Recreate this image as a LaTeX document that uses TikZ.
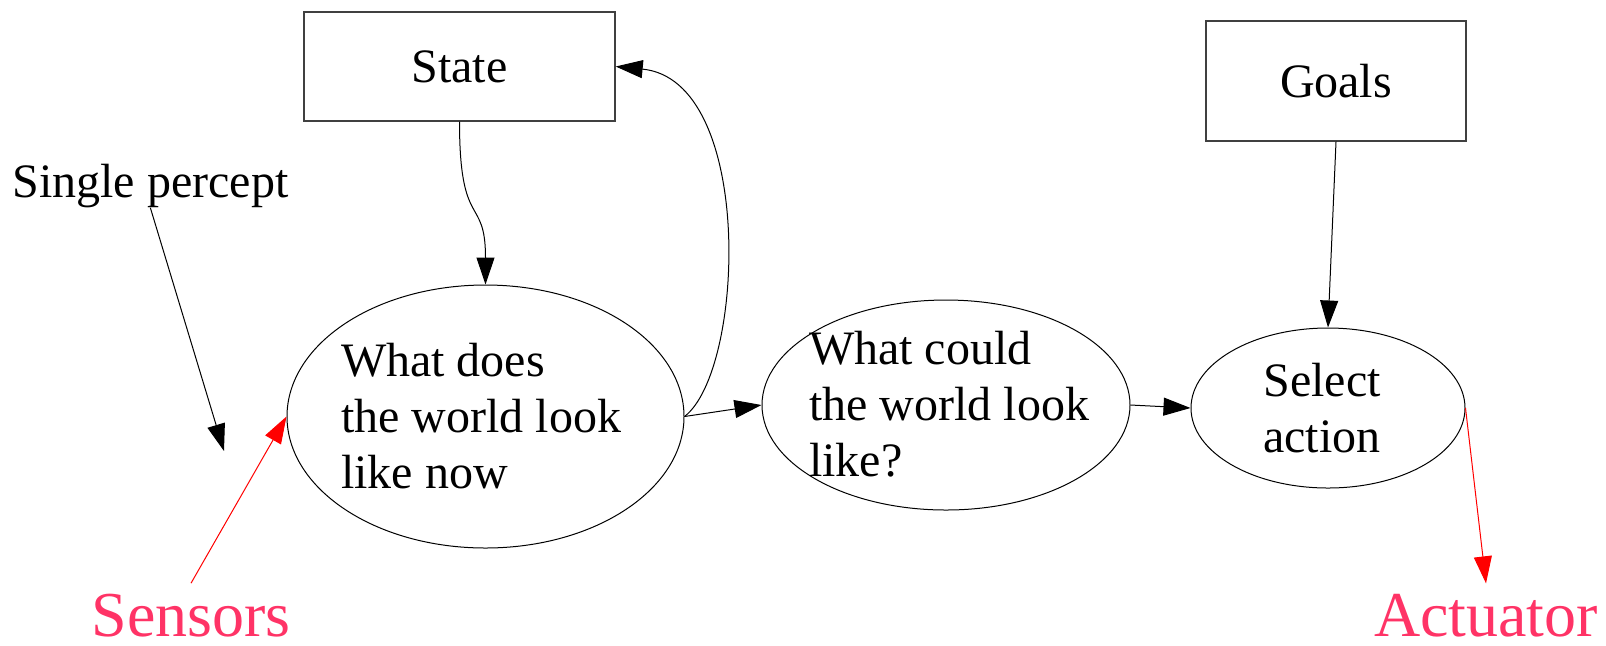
\documentclass[tikz,border=0pt]{standalone}
\usepackage{fontspec}
\setmainfont{Liberation Serif}
\usetikzlibrary{arrows.meta,shapes.geometric}
\definecolor{sensorpink}{RGB}{255,51,102}
\begin{document}
\begin{tikzpicture}[x=0.5pt,y=-0.5pt,
  tip/.style={-{Triangle[length=13.5pt,width=9pt]}},
  conn/.style={tip,line width=0.5pt,black},
  redconn/.style={tip,line width=0.5pt,red},
  box/.style={draw=black!75,line width=0.7pt,rectangle,inner sep=0pt,
    font=\fontsize{24}{28}\selectfont},
  blob/.style={draw,ellipse,line width=0.5pt,inner sep=0pt},
  blobtext/.style={align=left,inner sep=0pt,font=\fontsize{24}{28}\selectfont},
  plain/.style={inner sep=0pt,font=\fontsize{24}{28}\selectfont},
  io/.style={inner sep=0pt,text=sensorpink,
    font=\fontsize{32}{36}\selectfont}]
\useasboundingbox (0,0) rectangle (1606,645);

% memory and goal boxes
\node[box,minimum width=155.5pt,minimum height=54.5pt] (state) at (459.5,66.5) {State};
\node[box,minimum width=130pt,minimum height=60pt] (goals) at (1336,81) {Goals};

% processing stages
\node[blob,minimum width=198.5pt,minimum height=131.5pt] (now) at (485.5,416.5) {};
\node[blobtext] (nowtext) at (481,416) {What does\\the world look\\like now};
\node[blob,minimum width=184pt,minimum height=105pt] (could) at (946,405) {};
\node[blobtext] (couldtext) at (949,404) {What could\\the world look\\like?};
\node[blob,minimum width=137pt,minimum height=80pt] (sel) at (1328,408) {};
\node[blobtext] (seltext) at (1322,408.5) {Select\\action};

% free labels
\node[plain,anchor=base west] (percept) at (12,197) {Single percept};
\coordinate (perceptend) at (224,451);
\node[io,anchor=base] (sens) at (191,636) {Sensors};
\node[io,anchor=base] (act) at (1486,636) {Actuator};

% connectors
\draw[conn] (percept.south) -- (perceptend);
\draw[redconn] ([yshift=5pt]sens.north) -- (now.west);
\draw[conn] (state.south) .. controls +(0,110) and +(0,-90) .. (now.north);
\draw[conn] (now.east) .. controls (745,370) and (755,80) .. (state.east);
\draw[conn] (now.east) -- (could.west);
\draw[conn] (could.east) -- (sel.west);
\draw[conn] (goals.south) -- (sel.north);
\draw[redconn] (sel.east) -- ([yshift=5pt]act.north);
\end{tikzpicture}
\end{document}
